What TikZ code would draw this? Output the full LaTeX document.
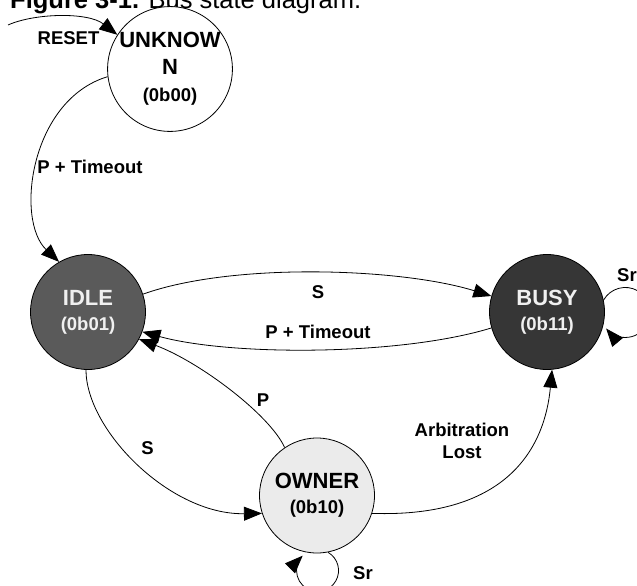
\documentclass[tikz,border=0pt]{standalone}
\usepackage{fontspec}
\setmainfont{Liberation Sans}
\usetikzlibrary{arrows.meta}
\definecolor{idlefill}{HTML}{5A5A5A}
\definecolor{busyfill}{HTML}{363636}
\definecolor{ownerfill}{HTML}{EBEBEB}
\definecolor{lighttext}{HTML}{F0F0F0}
\newcommand\namefont{\fontsize{22}{25}\selectfont\bfseries}
\newcommand\codefont{\fontsize{18.5}{25}\selectfont\bfseries}
\newcommand\lblfont{\fontsize{18.5}{21.5}\selectfont\bfseries}
\begin{document}
\begin{tikzpicture}[x=1pt,y=1pt,
  state/.style={circle, draw=black, line width=0.8pt, minimum size=115pt, inner sep=0pt, align=center, font=\namefont},
  arr/.style={-{Triangle[length=18pt,width=14pt]}, line width=0.8pt},
  lbl/.style={font=\lblfont, align=center, inner sep=0pt}]
\useasboundingbox (0,0) rectangle (637,-586);
\node[anchor=base west, inner sep=0pt, font=\fontsize{25.5}{30}\selectfont] (title) at (10,-8.5) {\textbf{Figure 3-1.} Bus state diagram.};
\node[state, fill=white] (unk) at (170,-69) {UNKNOW\\[2pt]N\\[2pt]{\codefont (0b00)}};
\node[state, fill=idlefill, text=lighttext] (idle) at (88,-312) {IDLE\\{\codefont (0b01)}};
\node[state, fill=busyfill, text=lighttext] (busy) at (547,-312) {BUSY\\{\codefont (0b11)}};
\node[state, fill=ownerfill] (owner) at (317,-495.5) {OWNER\\{\codefont (0b10)}};
% RESET
\coordinate (rs) at (8,-25);
\draw[arr] (rs) .. controls (35,-13) and (88,-12) .. (unk.147);
\node[lbl] (lreset) at (68.5,-38) {RESET};
% UNKNOWN -> IDLE
\draw[arr] (unk.187) .. controls (30,-100) and (15,-220) .. (idle.120);
\node[lbl] (lpt1) at (90,-166.5) {P + Timeout};
% IDLE -> BUSY
\draw[arr] (idle.18) .. controls (233,-262) and (401,-268) .. (busy.164);
\node[lbl] (ls1) at (318,-292) {S};
% BUSY -> IDLE
\draw[arr] (busy.196) .. controls (400,-356) and (230,-356) .. (idle.-20);
\node[lbl] (lpt2) at (318,-332) {P + Timeout};
% OWNER -> IDLE
\draw[arr] (owner.124) .. controls (270,-415) and (200,-362) .. (idle.-28);
\node[lbl] (lp) at (263,-400) {P};
% IDLE -> OWNER
\draw[arr] (idle.-92) .. controls (86,-430) and (170,-515) .. (owner.-162);
\node[lbl] (ls2) at (147.5,-448.5) {S};
% OWNER -> BUSY
\draw[arr] (owner.-18) .. controls (510,-518) and (545,-445) .. (busy.-85);
\node[lbl] (larb) at (462,-441) {Arbitration\\Lost};
% self loops
\draw[arr] (busy.12) arc[start angle=150, end angle=-140, radius=25];
\node[lbl] (lsr1) at (627,-275.5) {Sr};
\draw[arr] (owner.-79) arc[start angle=60, end angle=-225, radius=21];
\node[lbl] (lsr2) at (363,-573.5) {Sr};
\end{tikzpicture}
\end{document}
